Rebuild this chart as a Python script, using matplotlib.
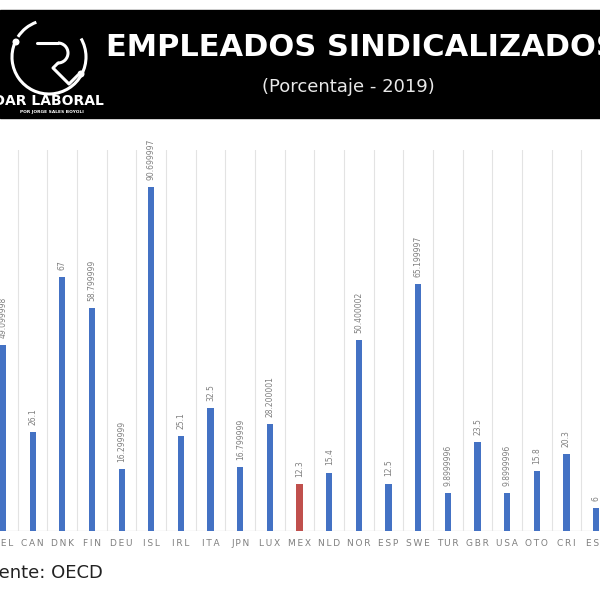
import numpy as np
import matplotlib.pyplot as plt
from matplotlib.patches import Arc, Circle, Rectangle

# data
paises = ["BEL", "CAN", "DNK", "FIN", "DEU", "ISL", "IRL", "ITA", "JPN", "LUX", "MEX",
          "NLD", "NOR", "ESP", "SWE", "TUR", "GBR", "USA", "OTO", "CRI", "EST"]
valores = [49.099998, 26.1, 67, 58.799999, 16.299999, 90.699997, 25.1, 32.5, 16.799999,
           28.200001, 12.3, 15.4, 50.400002, 12.5, 65.199997, 9.8999996, 23.5, 9.8999996,
           15.8, 20.3, 6]
destacado = "MEX"

azul = "#4472C4"
rojo = "#C0504D"
gris_txt = "#7f7f7f"
gris_linea = "#e3e3e3"

fig = plt.figure(figsize=(6, 6), dpi=100)
fig.patch.set_facecolor("white")

# ---- chart ----
ax = fig.add_axes([0, 0.115, 1, 0.635])
x = np.arange(len(paises))
colores = [rojo if p == destacado else azul for p in paises]
ax.bar(x, valores, width=0.21, color=colores, zorder=3)
ax.set_xlim(-0.101, 20.13)
ax.set_ylim(0, 100.5)

for xi, v in zip(x, valores):
    ax.text(xi, v + 1.9, "%.10g" % v, rotation=90, ha="center", va="bottom",
            fontsize=5.5, color=gris_txt)

for xi in np.arange(-0.5, len(paises) + 0.5, 1):
    ax.axvline(xi, color=gris_linea, lw=0.8, zorder=1)
ax.axhline(0, color=gris_linea, lw=1.0, zorder=2)

ax.set_xticks(x)
ax.set_xticklabels(["\u2009".join(p) for p in paises], fontsize=6.5, color=gris_txt)
ax.tick_params(axis="x", length=0, pad=5.5)
ax.set_yticks([])
for s in ax.spines.values():
    s.set_visible(False)
ax.set_facecolor("none")

# ---- header overlay in pixel coords ----
hd = fig.add_axes([0, 0, 1, 1], zorder=-1)
hd.set_xlim(0, 600)
hd.set_ylim(600, 0)
hd.axis("off")
hd.add_patch(Rectangle((0, 10), 600, 108, color="black"))

# logo (rough)
hd.add_patch(Arc((49, 57), 74, 74, angle=0, theta1=-30, theta2=203, color="white", lw=2.2))
hd.add_patch(Arc((49, 57), 74, 74, angle=0, theta1=213, theta2=250, color="white", lw=2.2))
hd.add_patch(Circle((16, 42), 2.8, color="white"))
hd.add_patch(Circle((81, 74), 2.8, color="white"))
hd.plot([37, 58], [43, 43], color="white", lw=2.2, solid_capstyle="round")
hd.add_patch(Arc((58, 53), 20, 20, theta1=-90, theta2=90, color="white", lw=2.2))
hd.plot([58, 53, 69, 78], [63, 68, 84, 75], color="white", lw=2.2,
        solid_capstyle="round", solid_joinstyle="round")

hd.text(104, 101, "RADAR LABORAL", color="white", fontsize=10, fontweight="bold",
        ha="right", va="center", family="DejaVu Sans")
hd.text(52, 112, "POR JORGE SALES BOYOLI", color="white", fontsize=3.2,
        fontweight="bold", ha="center", va="center")

hd.text(106, 47, "EMPLEADOS SINDICALIZADOS", color="white", fontsize=22,
        fontweight="bold", ha="left", va="center", family="DejaVu Sans")
hd.text(348, 87, "(Porcentaje - 2019)", color="#e8e8e8", fontsize=13,
        ha="center", va="center", family="DejaVu Sans")

hd.text(103, 573, "Fuente: OECD", color="#222222", fontsize=13,
        ha="right", va="center", family="DejaVu Sans")

fig.savefig("out.png", dpi=100)
